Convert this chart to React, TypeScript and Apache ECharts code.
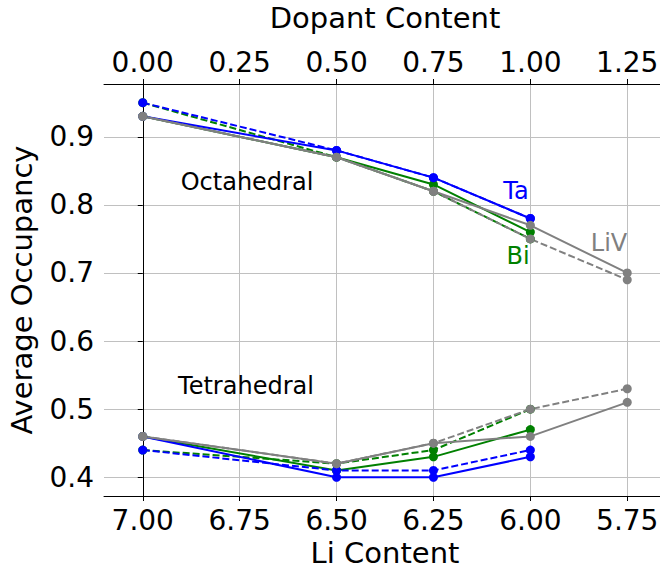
import React, { useEffect, useRef } from "react";
import * as echarts from "echarts";

// ---- data ----
const liContent = [7.0, 6.5, 6.25, 6.0, 5.75];
const liTicks = [7.0, 6.75, 6.5, 6.25, 6.0, 5.75];
const dopantTicks = [0.0, 0.25, 0.5, 0.75, 1.0, 1.25];
const occupancyTicks = [0.4, 0.5, 0.6, 0.7, 0.8, 0.9];

// Octahedral
const taOctSolid = [0.93, 0.88, 0.84, 0.78];
const taOctDashed = [0.95, 0.88, 0.84, 0.78];
const biOctSolid = [0.93, 0.87, 0.83, 0.76];
const biOctDashed = [0.95, 0.87, 0.82, 0.75];
const livOctSolid = [0.93, 0.87, 0.82, 0.77, 0.7];
const livOctDashed = [0.93, 0.87, 0.82, 0.75, 0.69];
// Tetrahedral
const taTetSolid = [0.46, 0.4, 0.4, 0.43];
const taTetDashed = [0.44, 0.41, 0.41, 0.44];
const biTetSolid = [0.46, 0.41, 0.43, 0.47];
const biTetDashed = [0.44, 0.42, 0.44, 0.5];
const livTetSolid = [0.46, 0.42, 0.45, 0.46, 0.51];
const livTetDashed = [0.46, 0.42, 0.45, 0.5, 0.53];

const BLUE = "#0000ff";
const GREEN = "#008000";
const GREY = "#808080";
const FONT = "DejaVu Sans";

// drawing order: Bi, then Ta, then LiV (later on top)
const seriesDefs = [
  { name: "Bi oct", values: biOctSolid, color: GREEN, dashed: false },
  { name: "Bi tet", values: biTetSolid, color: GREEN, dashed: false },
  { name: "Bi oct dashed", values: biOctDashed, color: GREEN, dashed: true },
  { name: "Bi tet dashed", values: biTetDashed, color: GREEN, dashed: true },
  { name: "Ta oct", values: taOctSolid, color: BLUE, dashed: false },
  { name: "Ta tet", values: taTetSolid, color: BLUE, dashed: false },
  { name: "Ta oct dashed", values: taOctDashed, color: BLUE, dashed: true },
  { name: "Ta tet dashed", values: taTetDashed, color: BLUE, dashed: true },
  { name: "LiV oct", values: livOctSolid, color: GREY, dashed: false },
  { name: "LiV tet", values: livTetSolid, color: GREY, dashed: false },
  { name: "LiV oct dashed", values: livOctDashed, color: GREY, dashed: true },
  { name: "LiV tet dashed", values: livTetDashed, color: GREY, dashed: true },
];

const annotations = [
  { text: "Octahedral", x: 247, y: 182, color: "#000000" },
  { text: "Tetrahedral", x: 246, y: 386, color: "#000000" },
  { text: "Ta", x: 516, y: 191, color: BLUE },
  { text: "Bi", x: 518, y: 256, color: GREEN },
  { text: "LiV", x: 609, y: 243, color: GREY },
];

export default function App() {
  const ref = useRef<HTMLDivElement>(null);
  useEffect(() => {
    if (!ref.current) return;
    const chart = echarts.init(ref.current, null, { renderer: "svg" });
    const axisLine = { show: true, lineStyle: { color: "#000", width: 1 } };
    const axisTickBase = { show: true, inside: false, length: 5, lineStyle: { color: "#000", width: 1 } };
    const option: any = {
      animation: false,
      backgroundColor: "#ffffff",
      grid: {
        left: 104,
        top: 84,
        right: -6,
        bottom: 74,
        containLabel: false,
        outerBoundsMode: "none",
      },
      xAxis: [
        {
          type: "value",
          position: "bottom",
          inverse: true,
          min: 5.65,
          max: 7.1,
          name: "Li Content",
          nameLocation: "middle",
          nameGap: 42,
          nameTextStyle: { fontFamily: FONT, fontSize: 29, color: "#000" },
          axisLine,
          axisTick: { ...axisTickBase, customValues: liTicks },
          axisLabel: {
            customValues: liTicks,
            formatter: (v: number) => v.toFixed(2),
            fontFamily: FONT,
            fontSize: 28,
            color: "#000",
            margin: 10,
          },
          splitLine: { show: true, lineStyle: { color: "#c0c0c0", width: 1 } },
        },
        {
          type: "value",
          position: "top",
          min: -0.1,
          max: 1.35,
          name: "Dopant Content",
          nameLocation: "middle",
          nameGap: 52,
          nameTextStyle: { fontFamily: FONT, fontSize: 29, color: "#000" },
          axisLine,
          axisTick: { ...axisTickBase, customValues: dopantTicks },
          axisLabel: {
            customValues: dopantTicks,
            formatter: (v: number) => v.toFixed(2),
            fontFamily: FONT,
            fontSize: 28,
            color: "#000",
            margin: 8,
          },
          splitLine: { show: false },
        },
      ],
      yAxis: {
        type: "value",
        min: 0.3725,
        max: 0.9775,
        name: "Average Occupancy",
        nameLocation: "middle",
        nameGap: 68,
        nameTextStyle: { fontFamily: FONT, fontSize: 29, color: "#000" },
        axisLine,
        axisTick: { ...axisTickBase, customValues: occupancyTicks },
        axisLabel: {
          customValues: occupancyTicks,
          formatter: (v: number) => v.toFixed(1),
          fontFamily: FONT,
          fontSize: 28,
          color: "#000",
          margin: 10,
        },
        splitLine: { show: true, lineStyle: { color: "#c0c0c0", width: 1 } },
      },
      series: seriesDefs.map((s) => ({
        name: s.name,
        type: "line",
        xAxisIndex: 0,
        yAxisIndex: 0,
        data: s.values.map((v, i) => [liContent[i], v]),
        symbol: "circle",
        symbolSize: 9,
        showSymbol: true,
        color: s.color,
        itemStyle: { color: s.color },
        lineStyle: { color: s.color, width: 2, type: s.dashed ? [7, 3] : "solid" },
        emphasis: { disabled: true },
      })),
      graphic: annotations.map((a) => ({
        type: "text",
        x: a.x,
        y: a.y,
        style: {
          text: a.text,
          fill: a.color,
          font: `24px "${FONT}"`,
          align: "center",
          verticalAlign: "middle",
        },
        z: 100,
      })),
    };
    chart.setOption(option);
    return () => chart.dispose();
  }, []);
  return (
    <div
      ref={ref}
      style={{ position: "absolute", left: 0, top: 0, width: 660, height: 570, background: "#fff" }}
    />
  );
}
